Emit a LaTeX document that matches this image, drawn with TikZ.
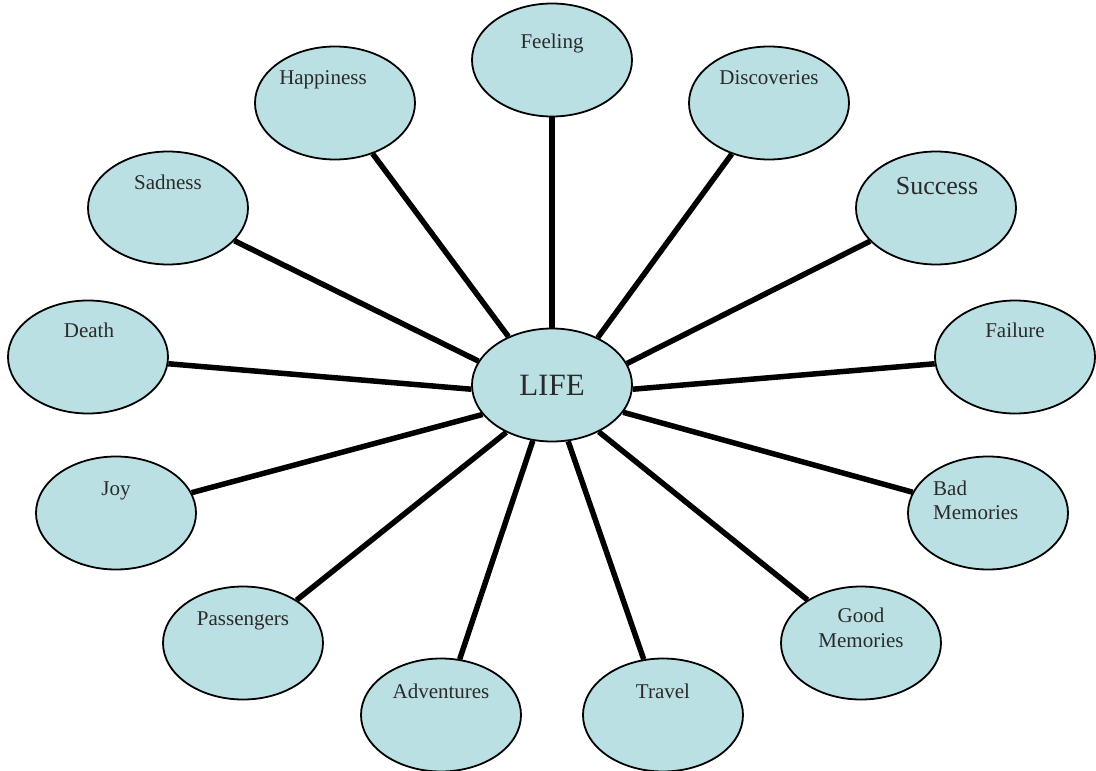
\documentclass[tikz,border=0pt]{standalone}
\usepackage{fontspec}
\setmainfont{Liberation Serif}
\usetikzlibrary{shapes.geometric}
\definecolor{bub}{HTML}{BBE0E3}
\definecolor{txt}{HTML}{2A2A2A}
\begin{document}
\begin{tikzpicture}[x=1pt,y=-1pt,
  bubble/.style={ellipse, draw=black, line width=1.8pt, fill=bub,
    minimum width=160pt, minimum height=113pt, inner sep=0pt},
  lbl/.style={text=txt, font=\fontsize{21}{24}\selectfont, inner sep=0pt},
  spoke/.style={draw=black, line width=5.5pt}]
\useasboundingbox (0,0) rectangle (1096,771);
% bubbles
\node[bubble] (life) at (552,385) {};
\node[bubble] (feel) at (552,60) {};
\node[bubble] (hap)  at (335,103) {};
\node[bubble] (disc) at (769,103) {};
\node[bubble] (sad)  at (168,208) {};
\node[bubble] (succ) at (936,208) {};
\node[bubble] (death) at (88,357) {};
\node[bubble] (fail) at (1015,357) {};
\node[bubble] (joy)  at (116,513) {};
\node[bubble] (bad)  at (988,513) {};
\node[bubble] (pass) at (243,643) {};
\node[bubble] (good) at (861,643) {};
\node[bubble] (adv)  at (441,715) {};
\node[bubble] (trav) at (663,715) {};
% spokes
\draw[spoke] (life.90) -- (feel);
\draw[spoke] (life.132.8) -- (hap);
\draw[spoke] (life.46.5) -- (disc);
\draw[spoke] (life.162.9) -- (sad);
\draw[spoke] (life.16.9) -- (succ);
\draw[spoke] (life.183.6) -- (death);
\draw[spoke] (life.-3.5) -- (fail);
\draw[spoke] (life.203.7) -- (joy);
\draw[spoke] (life.-21) -- (bad);
\draw[spoke] (life.226.6) -- (pass);
\draw[spoke] (life.-45) -- (good);
\draw[spoke] (life.251.8) -- (adv);
\draw[spoke] (life.286.6) -- (trav);
% labels
\node[lbl, anchor=base, font=\fontsize{31}{34}\selectfont] (tlife) at (552,395) {LIFE};
\node[lbl, anchor=base] (tfeel) at (552,48) {Feeling};
\node[lbl, anchor=base] (thap) at (323,84) {Happiness};
\node[lbl, anchor=base] (tdisc) at (769,84) {Discoveries};
\node[lbl, anchor=base] (tsad) at (168,189) {Sadness};
\node[lbl, anchor=base, font=\fontsize{26}{30}\selectfont] (tsucc) at (937,194) {Success};
\node[lbl, anchor=base] (tdeath) at (89,337) {Death};
\node[lbl, anchor=base] (tfail) at (1015,337) {Failure};
\node[lbl, anchor=base] (tjoy) at (116,495) {Joy};
\node[lbl, anchor=west, align=left] (tbad) at (933,500) {Bad\\Memories};
\node[lbl, anchor=base] (tpass) at (243,625) {Passengers};
\node[lbl, align=center, font=\fontsize{21}{25}\selectfont] (tgood) at (861,628) {Good\\Memories};
\node[lbl, anchor=base] (tadv) at (441,698) {Adventures};
\node[lbl, anchor=base] (ttrav) at (663,698) {Travel};
\end{tikzpicture}
\end{document}
